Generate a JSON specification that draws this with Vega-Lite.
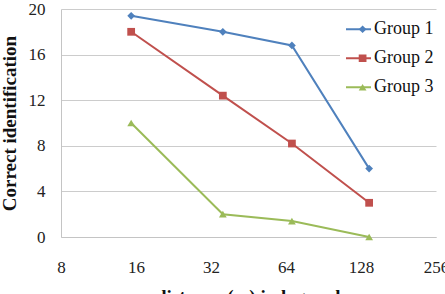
{
  "$schema": "https://vega.github.io/schema/vega-lite/v6.json",
  "width": 375,
  "height": 228,
  "autosize": {"type": "none"},
  "padding": {"left": 61, "top": 9, "right": 9, "bottom": 57},
  "background": "white",
  "config": {
    "view": {"stroke": null},
    "font": "Liberation Serif, Times New Roman, serif"
  },
  "data": {
    "values": [
      {"group": "Group 1", "distance": 15.3, "correct": 19.4},
      {"group": "Group 1", "distance": 35.7, "correct": 18.0},
      {"group": "Group 1", "distance": 67.6, "correct": 16.8},
      {"group": "Group 1", "distance": 138, "correct": 6.0},
      {"group": "Group 2", "distance": 15.3, "correct": 18.0},
      {"group": "Group 2", "distance": 35.7, "correct": 12.4},
      {"group": "Group 2", "distance": 67.6, "correct": 8.2},
      {"group": "Group 2", "distance": 138, "correct": 3.0},
      {"group": "Group 3", "distance": 15.3, "correct": 10.0},
      {"group": "Group 3", "distance": 35.7, "correct": 2.0},
      {"group": "Group 3", "distance": 67.6, "correct": 1.4},
      {"group": "Group 3", "distance": 138, "correct": 0.0}
    ]
  },
  "encoding": {
    "x": {
      "field": "distance",
      "type": "quantitative",
      "scale": {"type": "log", "base": 2, "domain": [8, 256], "nice": false},
      "axis": {
        "values": [8, 16, 32, 64, 128, 256],
        "format": "d",
        "grid": false,
        "ticks": false,
        "domainColor": "#c4c4c4",
        "domainWidth": 1,
        "labelFont": "Liberation Serif, Times New Roman, serif",
        "labelFontSize": 17,
        "labelColor": "#222222",
        "labelPadding": 22,
        "labelFlush": false,
        "labelOverlap": false,
        "labelBound": false,
        "title": "distance (m) in log scale",
        "titleFont": "Liberation Serif, Times New Roman, serif",
        "titleFontSize": 19,
        "titleFontWeight": "bold",
        "titleColor": "#111111",
        "titleBaseline": "alphabetic",
        "titleAlign": "center",
        "titleX": 191,
        "titleY": 65
      }
    },
    "y": {
      "field": "correct",
      "type": "quantitative",
      "scale": {"domain": [0, 20], "nice": false},
      "axis": {
        "values": [0, 4, 8, 12, 16, 20],
        "grid": true,
        "gridColor": "#cccccc",
        "gridWidth": 1,
        "ticks": false,
        "domainColor": "#c4c4c4",
        "domainWidth": 1,
        "labelFont": "Liberation Serif, Times New Roman, serif",
        "labelFontSize": 17,
        "labelColor": "#222222",
        "labelPadding": 16,
        "title": "Correct identification",
        "titleFont": "Liberation Serif, Times New Roman, serif",
        "titleFontSize": 19,
        "titleFontWeight": "bold",
        "titleColor": "#111111",
        "titleAngle": -90,
        "titleBaseline": "alphabetic",
        "titleAlign": "center",
        "titleX": -46,
        "titleY": 114
      }
    }
  },
  "layer": [
    {
      "mark": {"type": "line", "strokeWidth": 2},
      "encoding": {
        "color": {
          "field": "group",
          "type": "nominal",
          "scale": {
            "range": ["#4f81bd", "#c0504d", "#9bbb59"]
          },
          "legend": {
            "title": null,
            "orient": "none",
            "legendX": 279,
            "legendY": 1,
            "padding": 5,
            "fillColor": "white",
            "symbolType": "stroke",
            "symbolSize": 625,
            "symbolStrokeWidth": 2,
            "labelFont": "Liberation Serif, Times New Roman, serif",
            "labelFontSize": 18,
            "labelColor": "#111111",
            "labelOffset": 2,
            "clipHeight": 28.5,
            "rowPadding": 0
          }
        }
      }
    },
    {
      "mark": {"type": "point", "filled": true, "size": 60, "opacity": 1},
      "encoding": {
        "color": {
          "field": "group",
          "type": "nominal",
          "scale": {
            "domain": ["Group 1", "Group 2", "Group 3"],
            "range": ["#4f81bd", "#c0504d", "#9bbb59"]
          }
        },
        "shape": {
          "field": "group",
          "type": "nominal",
          "scale": {
            "domain": ["Group 1", "Group 2", "Group 3"],
            "range": ["diamond", "square", "triangle-up"]
          },
          "legend": {
            "title": null,
            "orient": "none",
            "legendX": 292.6,
            "legendY": 6,
            "padding": 0,
            "symbolSize": 60,
            "symbolStrokeWidth": 0,
            "symbolOpacity": 1,
            "labelFont": "Liberation Serif, Times New Roman, serif",
            "labelFontSize": 18,
            "labelOpacity": 0,
            "labelOffset": 2,
            "clipHeight": 28.5,
            "rowPadding": 0
          }
        }
      }
    }
  ],
  "resolve": {"scale": {"color": "independent", "shape": "independent"}}
}
